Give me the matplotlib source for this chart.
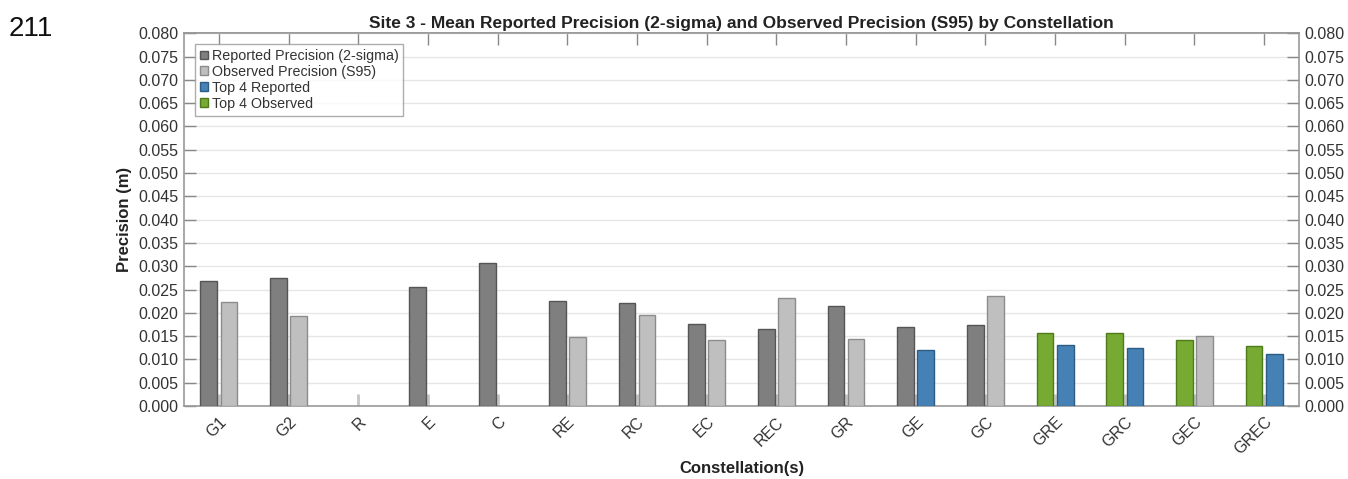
import numpy as np
import matplotlib
matplotlib.use("Agg")
import matplotlib.pyplot as plt
from matplotlib.patches import Patch

plt.rcParams['font.family'] = ['Liberation Sans', 'DejaVu Sans']

categories = ["G1", "G2", "R", "E", "C", "RE", "RC", "EC", "REC", "GR",
              "GE", "GC", "GRE", "GRC", "GEC", "GREC"]
reported = [0.0269, 0.0274, np.nan, 0.0256, 0.0306, 0.0226, 0.0222, 0.0176,
            0.0165, 0.0214, 0.0169, 0.0174, 0.0156, 0.0156, 0.0141, 0.0129]
observed = [0.0223, 0.0194, np.nan, np.nan, np.nan, 0.0148, 0.0195, 0.0141,
            0.0232, 0.0144, 0.0120, 0.0236, 0.0130, 0.0124, 0.0150, 0.0112]
# bar roles: 'r' reported grey, 'o' observed grey, 'tr' top-4 blue, 'to' top-4 green
reported_role = ["r"] * 12 + ["to"] * 4
observed_role = ["o"] * 10 + ["tr", "o", "tr", "tr", "o", "tr"]

styles = {
    "r": ("#7f7f7f", "#555555"),
    "o": ("#bfbfbf", "#8c8c8c"),
    "tr": ("#4581b4", "#2c5c86"),
    "to": ("#76aa32", "#4e7a1c"),
}

fig = plt.figure(figsize=(13.48, 4.79), dpi=100)
ax = fig.add_axes([184 / 1348, 1 - 406 / 479, (1299 - 184) / 1348, (406 - 33.3) / 479])

x = np.arange(len(categories))
w = 0.24
off = 0.145
for i in range(len(categories)):
    if not np.isnan(reported[i]):
        fc, ec = styles[reported_role[i]]
        ax.bar(x[i] - off, reported[i], w, color=fc, edgecolor=ec, linewidth=1, zorder=3)
    if not np.isnan(observed[i]):
        fc, ec = styles[observed_role[i]]
        ax.bar(x[i] + off, observed[i], w, color=fc, edgecolor=ec, linewidth=1, zorder=3)

ax.set_xlim(-0.5, len(categories) - 0.5)
ax.set_ylim(0, 0.080)
yt = np.arange(0, 0.0801, 0.005)
ax.set_yticks(yt)
ax.set_yticklabels([f"{v:.3f}" for v in yt])
ax.yaxis.grid(True, color="#e6e6e6", linewidth=1, zorder=0)
ax.set_axisbelow(True)

ax.tick_params(axis="y", which="both", direction="in", length=8.3, width=1,
               color="#888888", left=True, right=True, labelleft=True,
               labelright=True, labelsize=11.5, labelcolor="#333333", pad=4)
ax.set_xticks(x)
ax.set_xticklabels(categories, rotation=45, ha="right", rotation_mode="anchor")
ax.tick_params(axis="x", direction="in", length=8.6, width=2, color="#c4c4c4",
               labelsize=11.5, labelcolor="#333333", pad=6)

top = ax.secondary_xaxis("top")
top.set_xticks(x)
top.set_xticklabels([])
top.tick_params(direction="in", length=8.6, width=1, color="#888888")

for s in list(ax.spines.values()) + list(top.spines.values()):
    s.set_color("#999999")
    s.set_linewidth(1.2)

ax.set_title("Site 3 - Mean Reported Precision (2-sigma) and Observed Precision (S95) by Constellation",
             fontsize=12.5, fontweight="bold", color="#222222", pad=4)
ax.set_ylabel("Precision (m)", fontsize=12, fontweight="bold", color="#222222", va="center")
ax.yaxis.set_label_coords((125 - 184) / 1115, 0.5)
ax.set_xlabel("Constellation(s)", fontsize=12, fontweight="bold", color="#222222", va="center")
ax.xaxis.set_label_coords(0.5, (406 - 469) / 372.7)

handles = [
    Patch(facecolor="#7f7f7f", edgecolor="#555555", label="Reported Precision (2-sigma)"),
    Patch(facecolor="#bfbfbf", edgecolor="#8c8c8c", label="Observed Precision (S95)"),
    Patch(facecolor="#4581b4", edgecolor="#2c5c86", label="Top 4 Reported"),
    Patch(facecolor="#76aa32", edgecolor="#4e7a1c", label="Top 4 Observed"),
]
leg = ax.legend(handles=handles, loc="upper left", fontsize=10.3, frameon=True,
                fancybox=False, edgecolor="#999999", handlelength=0.58,
                handleheight=0.58, handletextpad=0.25, labelspacing=0.13,
                borderpad=0.35, borderaxespad=0.75, labelcolor="#333333")
leg.get_frame().set_linewidth(1)

fig.text(9 / 1348, 1 - 36 / 479, "211", fontsize=20, color="#111111")

fig.savefig("out.png", dpi=100)
